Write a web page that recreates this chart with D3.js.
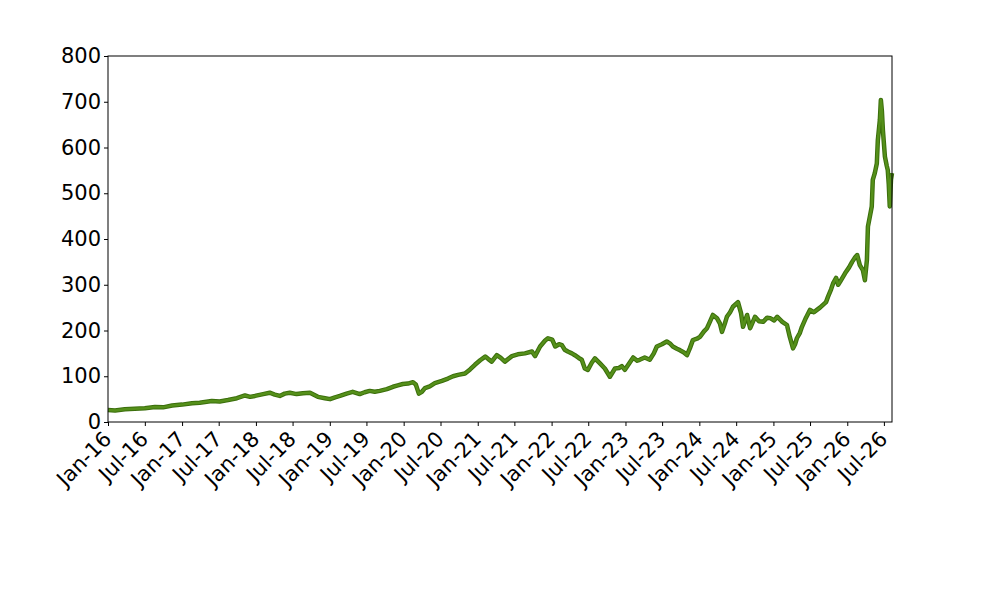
<!DOCTYPE html>
<html>
<head>
<meta charset="utf-8">
<script src="https://cdn.jsdelivr.net/npm/d3@7"></script>
<style>
  body { margin: 0; background: #fff; }
  text { font-family: "DejaVu Sans", sans-serif; }
</style>
</head>
<body>
<div id="chart"></div>
<script>
// dates, prices off the y axis
const dates = [
  "2016-01-01","2016-02-05","2016-03-24","2016-05-12","2016-07-01","2016-08-20","2016-09-29","2016-11-13",
  "2017-01-01","2017-02-19","2017-03-29","2017-05-28","2017-07-06","2017-08-16","2017-09-29","2017-11-08",
  "2017-12-03","2017-12-27","2018-02-06","2018-03-10","2018-04-04","2018-04-29","2018-05-23","2018-06-17",
  "2018-07-21","2018-08-21","2018-09-25","2018-11-03","2018-12-08","2019-01-02","2019-01-27","2019-02-20",
  "2019-03-25","2019-04-24","2019-05-29","2019-06-22","2019-07-17","2019-08-11","2019-09-05","2019-10-10",
  "2019-11-09","2019-12-03","2019-12-28","2020-01-22","2020-02-16","2020-03-01","2020-03-16","2020-03-31",
  "2020-04-15","2020-05-09","2020-06-03","2020-07-08","2020-08-07","2020-09-01","2020-09-26","2020-10-30",
  "2020-11-24","2020-12-18","2021-01-13","2021-02-07","2021-02-21","2021-03-11","2021-04-05","2021-04-25",
  "2021-05-15","2021-06-19","2021-07-18","2021-08-22","2021-09-26","2021-10-11","2021-11-05","2021-11-30",
  "2021-12-14","2022-01-04","2022-01-19","2022-02-07","2022-02-21","2022-03-07","2022-03-22","2022-04-11",
  "2022-04-26","2022-05-15","2022-05-30","2022-06-14","2022-06-29","2022-07-19","2022-08-03","2022-08-28",
  "2022-09-21","2022-10-16","2022-11-10","2022-11-30","2022-12-14","2022-12-29","2023-01-19","2023-02-08",
  "2023-02-28","2023-03-12","2023-04-06","2023-05-01","2023-05-21","2023-06-05","2023-06-30","2023-07-24",
  "2023-08-08","2023-08-23","2023-09-12","2023-09-27","2023-10-17","2023-11-01","2023-11-16","2023-11-30",
  "2023-12-20","2024-01-04","2024-01-24","2024-02-08","2024-02-23","2024-03-08","2024-03-28","2024-04-12",
  "2024-04-22","2024-05-06","2024-05-16","2024-06-01","2024-06-15","2024-06-30","2024-07-10","2024-07-25",
  "2024-08-04","2024-08-24","2024-09-08","2024-10-02","2024-10-22","2024-11-11","2024-12-01","2024-12-16",
  "2025-01-05","2025-01-20","2025-02-14","2025-03-09","2025-03-23","2025-04-08","2025-04-18","2025-04-27",
  "2025-05-12","2025-05-22","2025-06-11","2025-07-01","2025-07-20","2025-08-04","2025-08-19","2025-09-03",
  "2025-09-18","2025-09-28","2025-10-13","2025-10-23","2025-11-07","2025-11-17","2025-11-27","2025-12-21",
  "2026-01-10","2026-01-25","2026-02-09","2026-02-19","2026-03-04","2026-03-19","2026-03-29","2026-04-08",
  "2026-04-13","2026-04-23","2026-05-02","2026-05-07","2026-05-17","2026-05-27","2026-06-01","2026-06-11",
  "2026-06-16","2026-06-21","2026-06-26","2026-07-06","2026-07-15","2026-07-20","2026-07-25","2026-07-30",
  "2026-08-05","2026-08-10"
];

const prices = [
  26, 25, 28, 29, 30, 33, 32, 36,
  38, 41, 42, 46, 45, 48, 52, 58,
  55, 57, 61, 64, 60, 57, 62, 64,
  61, 63, 64, 55, 52, 50, 54, 57,
  62, 66, 61, 65, 68, 66, 68, 72,
  77, 80, 83, 84, 87, 82, 62, 66,
  74, 78, 85, 90, 95, 100, 103, 106,
  115, 125, 135, 143, 138, 132, 146, 140,
  132, 144, 148, 150, 154, 144, 165, 178,
  183, 180, 165, 170, 168, 158, 154, 150,
  146, 140, 136, 117, 114, 130, 139, 128,
  117, 99, 117, 118, 122, 114, 128, 141,
  134, 136, 141, 136, 150, 165, 170, 176,
  172, 165, 160, 157, 152, 146, 162, 179,
  182, 186, 198, 205, 220, 234, 227, 215,
  197, 215, 230, 240, 252, 258, 262, 238,
  208, 234, 205, 230, 220, 219, 228, 227,
  222, 230, 219, 212, 186, 161, 170, 183,
  195, 208, 228, 245, 240, 245, 250, 256,
  262, 274, 290, 303, 315, 300, 307, 325,
  338, 350, 360, 365, 343, 332, 310, 354,
  427, 450, 471, 529, 544, 565, 616, 660,
  704, 680, 638, 580, 560, 551, 520, 471,
  530, 544
];

const yTicks = [0, 100, 200, 300, 400, 500, 600, 700, 800];

const width = 1000;
const height = 600;
const margin = {top: 56, right: 108, bottom: 178, left: 108};
const innerW = width - margin.left - margin.right;
const innerH = height - margin.top - margin.bottom;

const parseDate = d3.timeParse("%Y-%m-%d");
const data = dates.map((d, i) => ({date: parseDate(d), price: prices[i]}));

const svg = d3.select("#chart").append("svg")
  .attr("width", width)
  .attr("height", height);

const g = svg.append("g")
  .attr("transform", `translate(${margin.left},${margin.top})`);

const x = d3.scaleTime()
  .domain(d3.extent(data, d => d.date))
  .range([0, innerW]);

const y = d3.scaleLinear()
  .domain([0, 800])
  .range([innerH, 0]);

const line = d3.line()
  .x(d => x(d.date))
  .y(d => y(d.price));

// darker edge first, green on top
g.append("path")
  .datum(data)
  .attr("fill", "none")
  .attr("stroke", "#3b6e0c")
  .attr("stroke-width", 4.5)
  .attr("stroke-linejoin", "round")
  .attr("d", line);

g.append("path")
  .datum(data)
  .attr("fill", "none")
  .attr("stroke", "#55901a")
  .attr("stroke-width", 2.5)
  .attr("stroke-linejoin", "round")
  .attr("d", line);

const xTicks = d3.timeMonth.every(6).range(parseDate("2016-01-01"), x.domain()[1]);

const xAxis = g.append("g")
  .attr("transform", `translate(0,${innerH})`)
  .call(d3.axisBottom(x).tickValues(xTicks).tickFormat(d3.timeFormat("%b-%y")).tickSize(4).tickSizeOuter(0));

xAxis.selectAll("text")
  .attr("font-size", 21)
  .attr("fill", "#000")
  .style("text-anchor", "end")
  .attr("dx", "-10px")
  .attr("dy", "9px")
  .attr("transform", "rotate(-45)");

const yAxis = g.append("g")
  .call(d3.axisLeft(y).tickValues(yTicks).tickSize(4).tickSizeOuter(0));

yAxis.selectAll("text")
  .attr("font-size", 21)
  .attr("fill", "#000");

svg.selectAll(".domain").remove();

// frame round the plot
g.append("rect")
  .attr("width", innerW)
  .attr("height", innerH)
  .attr("fill", "none")
  .attr("stroke", "#000")
  .attr("stroke-width", 1);
</script>
</body>
</html>
